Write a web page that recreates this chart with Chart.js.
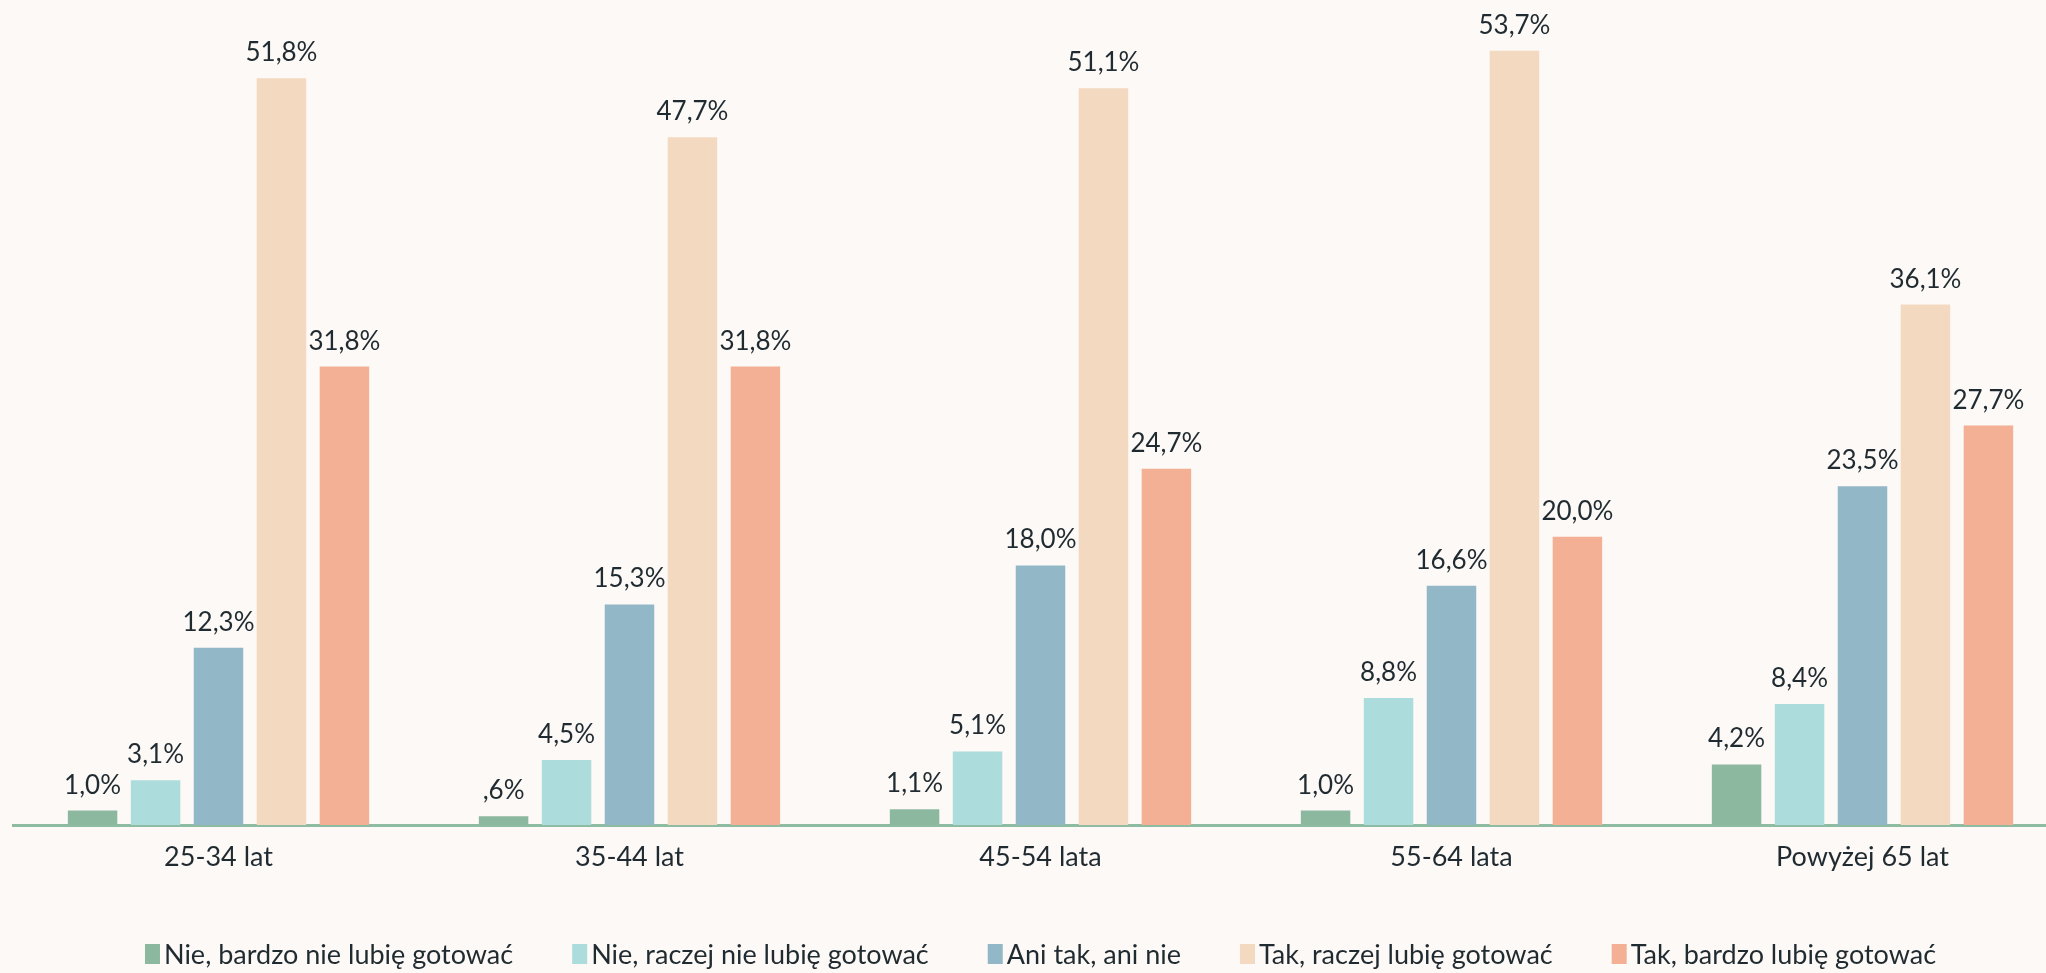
<!DOCTYPE html>
<html>
<head>
<meta charset="utf-8">
<script src="https://cdn.jsdelivr.net/npm/chart.js@4/dist/chart.umd.min.js"></script>
<style>
  html, body { margin: 0; padding: 0; background: #fdf9f6; overflow: hidden; }
  #wrap { width: 2068px; height: 973px; }
</style>
</head>
<body>
<div id="wrap"><canvas id="c" width="2068" height="973"></canvas></div>
<script>
// ---- data ----
const categories = ["25-34 lat", "35-44 lat", "45-54 lata", "55-64 lata", "Powyżej 65 lat"];
const seriesNames = [
  "Nie, bardzo nie lubię gotować",
  "Nie, raczej nie lubię gotować",
  "Ani tak, ani nie",
  "Tak, raczej lubię gotować",
  "Tak, bardzo lubię gotować"
];
const nieBardzo   = [1.0, 0.6, 1.1, 1.0, 4.2];
const nieRaczej   = [3.1, 4.5, 5.1, 8.8, 8.4];
const aniTakAni   = [12.3, 15.3, 18.0, 16.6, 23.5];
const takRaczej   = [51.8, 47.7, 51.1, 53.7, 36.1];
const takBardzo   = [31.8, 31.8, 24.7, 20.0, 27.7];
const seriesValues = [nieBardzo, nieRaczej, aniTakAni, takRaczej, takBardzo];
const colors = ["#8db8a0", "#acdcdc", "#92b7c7", "#f2d9c0", "#f4b094"];

const FONT = "Lato, 'Open Sans', sans-serif";
const WEIGHT = 400;
const TEXT = "#1f2b31";
const BG = "#fdf9f6";

function fmt(v) {
  let s = v.toFixed(1).replace('.', ',');
  if (s.startsWith('0,')) s = s.slice(1);
  return s + '%';
}

const bgPlugin = {
  id: 'bg',
  beforeDraw(chart) {
    const ctx = chart.ctx;
    ctx.save();
    ctx.fillStyle = BG;
    ctx.fillRect(0, 0, chart.width, chart.height);
    ctx.restore();
  }
};

const valueLabels = {
  id: 'valueLabels',
  afterDatasetsDraw(chart) {
    const ctx = chart.ctx;
    ctx.save();
    ctx.font = WEIGHT + " 26px " + FONT;
    ctx.fillStyle = TEXT;
    ctx.textAlign = 'center';
    ctx.textBaseline = 'alphabetic';
    chart.data.datasets.forEach((ds, i) => {
      const meta = chart.getDatasetMeta(i);
      meta.data.forEach((el, j) => {
        ctx.fillText(fmt(ds.data[j]), el.x, el.y - 17);
      });
    });
    ctx.restore();
  }
};

const customLegend = {
  id: 'customLegend',
  afterDraw(chart) {
    const ctx = chart.ctx;
    ctx.save();
    ctx.font = WEIGHT + " 27px " + FONT;
    ctx.textBaseline = 'middle';
    ctx.textAlign = 'left';
    const boxW = 15, boxH = 20, boxGap = 4, itemGap = 59;
    const items = chart.data.datasets.map(ds => ({
      label: ds.label, color: ds.backgroundColor,
      w: boxW + boxGap + ctx.measureText(ds.label).width
    }));
    const total = items.reduce((a, it) => a + it.w, 0) + itemGap * (items.length - 1);
    const ca = chart.chartArea;
    let x = (ca.left + ca.right) / 2 - total / 2;
    const yc = 954;
    items.forEach(it => {
      ctx.fillStyle = it.color;
      ctx.fillRect(x, yc - boxH / 2, boxW, boxH);
      ctx.fillStyle = TEXT;
      ctx.fillText(it.label, x + boxW + boxGap, yc + 1);
      x += it.w + itemGap;
    });
    ctx.restore();
  }
};

new Chart(document.getElementById('c'), {
  type: 'bar',
  data: {
    labels: categories,
    datasets: seriesNames.map((name, i) => ({
      label: name,
      data: seriesValues[i],
      backgroundColor: colors[i],
      borderWidth: 0,
      categoryPercentage: 0.766,
      barPercentage: 0.786
    }))
  },
  options: {
    responsive: false,
    animation: false,
    layout: { padding: { left: 13, right: 0, top: 32, bottom: 0 } },
    plugins: {
      legend: { display: false },
      tooltip: { enabled: false }
    },
    scales: {
      x: {
        grid: { display: false, drawTicks: false },
        border: { display: true, color: "#8dbca2", width: 3 },
        ticks: { color: TEXT, font: { family: FONT, size: 27, weight: WEIGHT }, padding: 16 },
        afterFit(scale) { scale.height = 148; }
      },
      y: {
        display: false,
        min: 0,
        max: 55
      }
    }
  },
  plugins: [bgPlugin, valueLabels, customLegend]
});
</script>
</body>
</html>
